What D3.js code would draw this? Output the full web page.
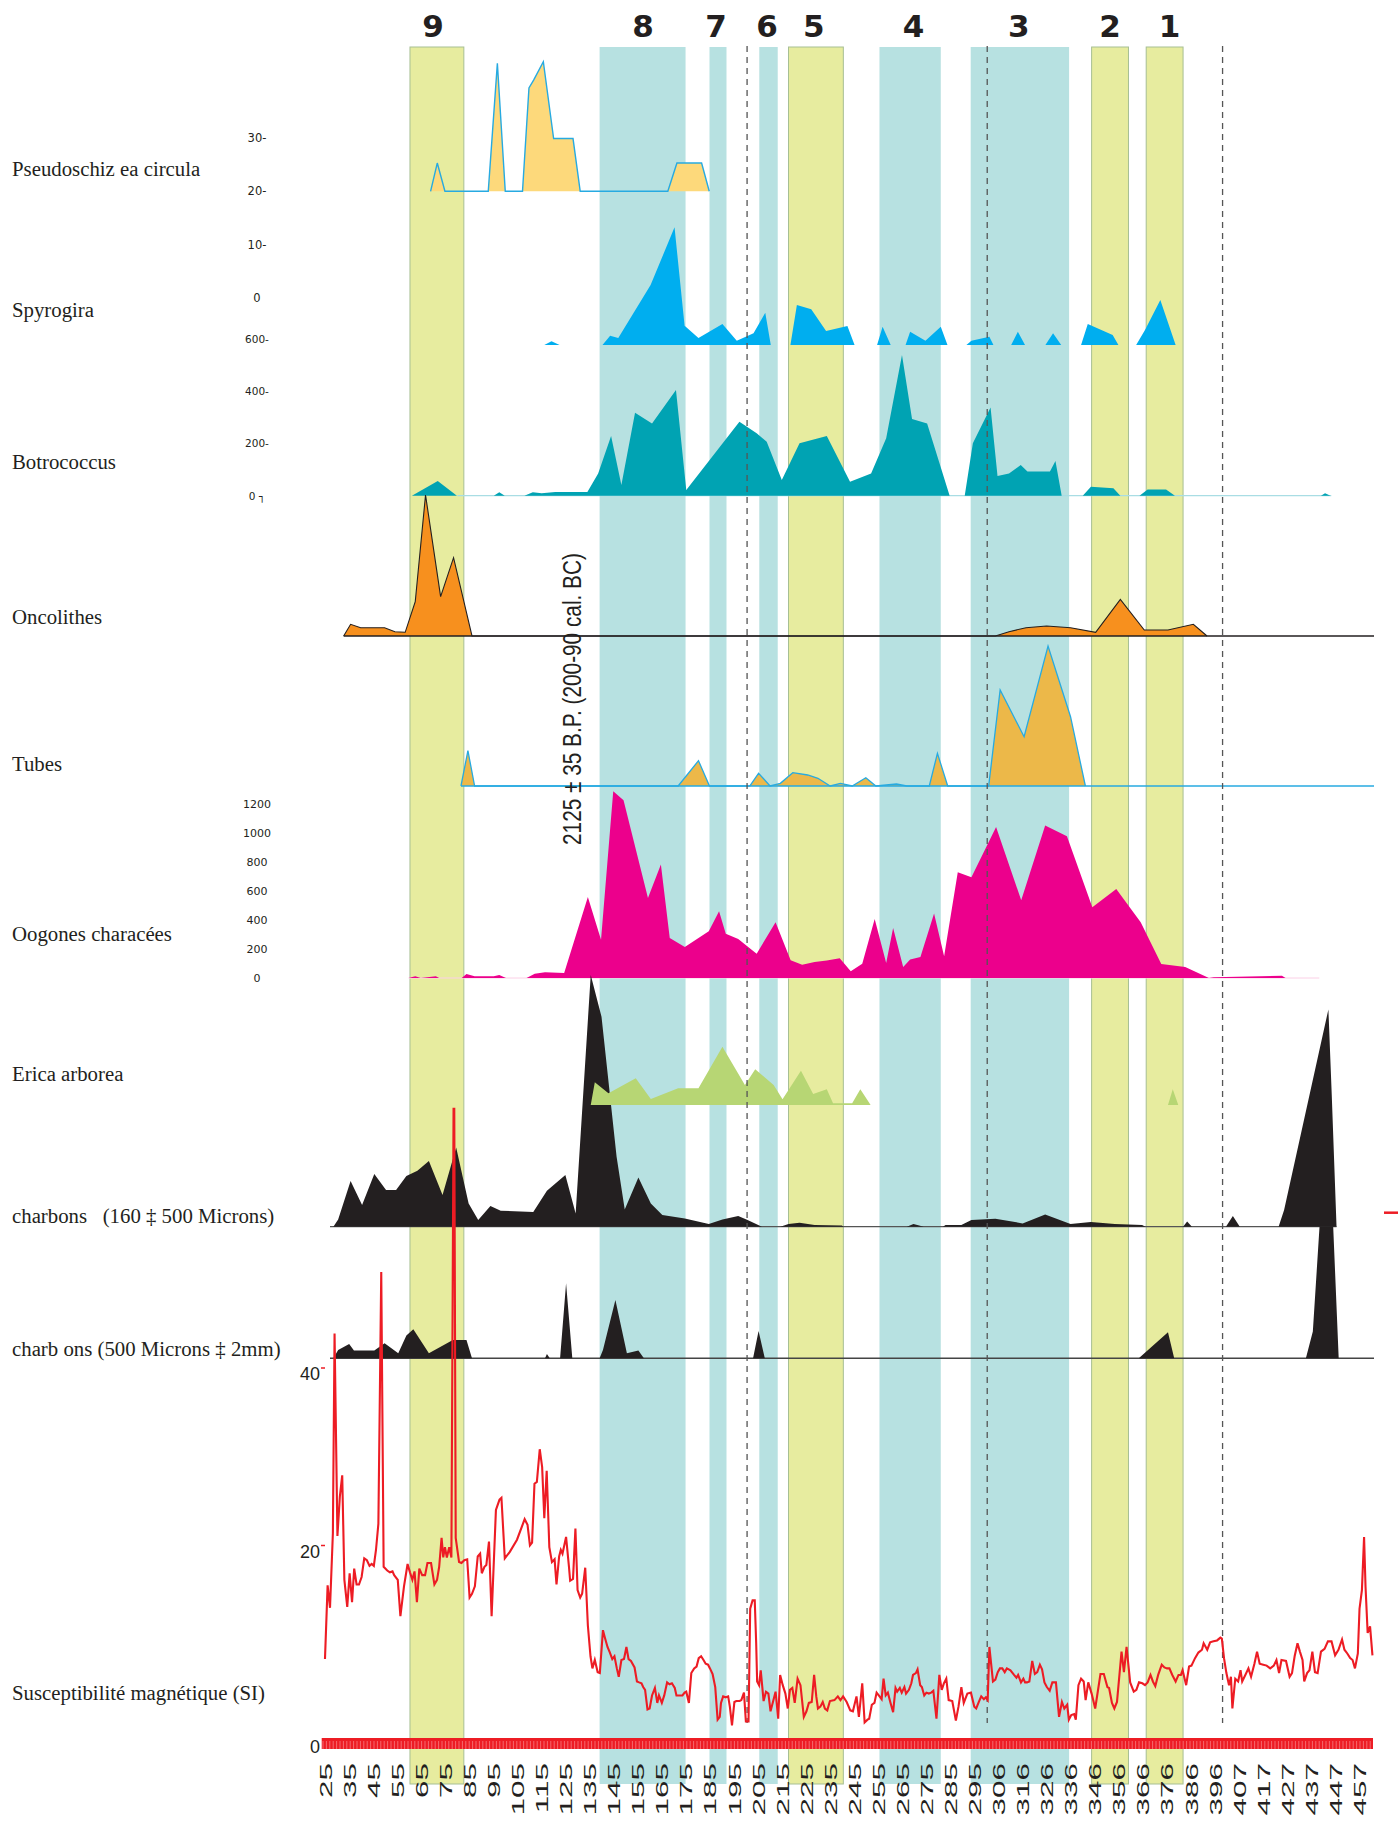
<!DOCTYPE html>
<html><head><meta charset="utf-8">
<script src="https://cdn.jsdelivr.net/npm/d3@7"></script>
<style>body{margin:0;background:#fff}svg{display:block}</style>
</head><body>
<svg id="chart" width="1399" height="1821"></svg>
<script>
// ---------- DATA ----------
const depthLabels = ["25","35","45","55","65","75","85","95","105","115","125","135","145","155","165","175","185","195","205","215","225","235","245","255","265","275","285","295","306","316","326","336","346","356","366","376","386","396","407","417","427","437","447","457"];

const zoneNames = ["9","8","7","6","5","4","3","2","1"];
const zoneStart = [60.2,139.4,185.3,206.1,218.3,256.3,294.4,344.9,367.7];
const zoneEnd   = [82.7,175.3,192.4,213.8,241.2,281.9,335.5,360.3,383.1];
const zoneKind  = ["y","b","b","b","y","b","b","y","y"];
const zoneLabelDepth = [69.8,157.5,188.0,209.3,228.9,270.5,314.5,352.6,377.4];
const dashedDepths = [201.0,301.3,399.6];

const panelNames = ["Pseudoschiz ea circula","Spyrogira","Botrococcus","Oncolithes","Tubes","Oogones characées","Erica arborea","charbons   (160 ‡ 500 Microns)","charb ons (500 Microns ‡ 2mm)","Susceptibilité magnétique (SI)"];

const pseudoTicks = [30,20,10,0];
const botryoTicks = [600,400,200,0];
const oogTicks = [1200,1000,800,600,400,200,0];
const suscTicks = [40,20,0];
const dateLabel = "2125 ± 35 B.P. (200-90 cal. BC)";

const pseudoData = [[68.8,20],[71.6,25.3],[74.8,20],[92.9,20],[96.7,44],[100.0,20],[107.2,20],[109.9,39.4],[111.9,40.9],[115.9,44.3],[120.2,29.9],[128.3,29.9],[131.3,20],[167.9,20],[171.7,25.3],[182.0,25.3],[185.2,20]];

const spyroData = [[116.3,0],[119.3,3.7],[122.7,0],[140.6,0],[143.8,9.3],[147.2,7],[160.7,60],[170.7,117.7],[174.9,19.3],[180.7,7],[190.7,21],[196.7,4.3],[203.7,11.7],[208.6,32.3],[210.9,0],[219.1,0],[221.8,40],[227.8,35.7],[234.0,14],[242.9,19],[245.9,0],[255.3,0],[257.6,18.3],[261.0,0],[267.2,0],[269.1,13.3],[275.5,4.3],[281.9,18.3],[284.7,0],[292.6,0],[294.7,4.3],[302.2,8.3],[303.9,0],[311.3,0],[314.1,13.3],[317.1,0],[325.6,0],[328.8,11.7],[332.2,0],[340.5,0],[343.3,21],[353.7,10],[356.1,0],[363.5,0],[367.2,15],[373.6,45],[380.0,0]];

const botryoData = [[61.0,0],[71.8,56],[79.8,0],[95.2,0],[97.5,12.7],[99.8,0],[108.0,0],[111.5,12.7],[115.2,8.9],[120.9,14],[134.3,14],[138.8,85],[144.2,228],[148.5,41],[154.2,317],[161.3,276],[171.3,403],[175.6,22],[197.8,282],[205.0,238],[209.2,206],[215.5,60],[222.9,200],[234.3,228],[244.0,53],[252.8,85],[259.1,219],[265.7,537],[269.9,293],[276.2,276],[285.6,0],[291.9,0],[295.3,200],[302.7,337],[305.6,75],[310.4,85],[315.3,117],[318.1,92],[327.5,92],[329.8,132],[332.4,0],[341.2,0],[344.6,34],[354.0,28],[356.9,0],[364.9,0],[368.3,24],[376.0,24],[379.7,0],[440.7,0],[442.4,9],[444.7,0]];

const oncolData = [[32.5,0],[35.4,11.7],[39.6,8.3],[49.6,8.3],[53.9,4.3],[58.2,3.7],[62.4,34.3],[66.7,141],[73.0,39.3],[78.4,78.3],[86.1,0],[304.7,0],[310.4,4.3],[317.5,8.3],[326.1,10],[336.1,8.3],[346.6,3.7],[356.9,36.7],[366.9,6],[376.8,6],[387.4,11.7],[393.1,0]];

const tubesData = [[81.5,0],[84.4,35.3],[87.2,0],[172.2,0],[180.7,25.3],[185.3,0],[202.1,0],[205.8,12.7],[210.6,0],[214.9,2.7],[220.1,13.3],[226.3,11],[230.6,7.7],[235.7,0],[240.0,2.7],[244.9,0],[250.6,8.3],[254.8,0],[263.4,2],[267.7,0],[277.1,0],[280.5,32.7],[284.8,0],[301.9,0],[306.7,96],[316.7,49.3],[326.7,140],[336.1,69.3],[342.3,0]];

const oogData = [[59.6,0],[62.4,11.5],[64.7,0],[71.0,11.5],[72.4,0],[81.8,0],[83.8,27.6],[87.2,11.5],[95.2,11.5],[97.5,20.7],[100.3,0],[108.9,0],[112.3,29.9],[116.6,39.1],[124.6,34.5],[134.5,559],[140.0,264],[145.1,1288],[149.4,1226],[159.6,552],[165.0,782],[168.7,276],[175.0,214],[185.0,322],[189.3,460],[192.1,305],[197.3,269],[205.0,168],[212.9,384],[219.2,122],[224.0,92],[229.2,110],[234.3,120],[239.7,136],[244.3,46],[249.1,99],[254.3,407],[259.1,104],[262.0,345],[266.2,76],[269.1,127],[273.4,145],[279.1,444],[283.3,150],[289.0,729],[294.7,695],[305.0,1042],[315.5,536],[325.5,1051],[334.6,978],[345.2,488],[355.2,614],[365.4,384],[374.0,97],[384.0,76],[393.9,0],[395.9,4.6],[424.4,16],[425.9,0]];

const ericaData = [[135.7,0],[137.4,22.7],[143.1,11.7],[154.5,26.7],[160.8,6],[172.2,16.7],[180.7,16.7],[190.7,58.3],[200.1,20],[204.4,35.7],[212.1,20],[215.8,5.7],[223.5,34.3],[228.6,11],[234.3,15.7],[236.9,1.7],[244.9,1.7],[248.3,15.7],[252.6,0],[376.8,0],[378.8,15.7],[381.1,0]];

const char1Data = [[28.2,0],[30.2,7.3],[35.4,45.7],[40.2,21.7],[45.3,52.7],[50.2,36.7],[54.4,36.7],[58.7,50.7],[63.3,56],[68.1,65.7],[73.8,31.7],[79.5,79.3],[84.7,23.3],[88.7,6.7],[93.8,20.7],[98.1,16],[111.7,14.7],[117.4,36],[125.1,51.7],[129.4,13.3],[135.7,251.7],[140.2,210],[146.5,70],[149.9,17.3],[155.6,49.3],[160.8,23.3],[165.6,11.7],[175.0,8.3],[185.0,2.7],[190.7,7.3],[197.3,10.7],[201.2,6.7],[207.2,0],[214.9,0],[218.3,2.7],[222.9,4],[229.2,1.7],[240.6,1.3],[241.2,0],[267.7,0],[270.5,2.7],[274.8,0],[282.8,0],[283.9,1.7],[290.5,1.7],[294.7,6.7],[304.7,8],[316.1,3.3],[325.5,12.3],[336.1,2.7],[344.6,4.7],[354.6,2.7],[366.0,1.7],[367.4,0],[383.1,0],[384.8,5.3],[386.8,0],[401.0,0],[403.9,10.7],[406.8,0],[423.0,0],[425.3,16.7],[443.8,217.3],[445.2,131.7],[447.2,0]];

const char2Data = [[28.2,0],[30.2,8.3],[34.8,14.3],[36.8,7.7],[45.3,7.7],[49.6,15],[55.3,5],[58.7,22.7],[61.6,29],[68.1,5],[78.1,18.3],[83.8,18.3],[86.1,0],[116.6,0],[117.4,4.3],[118.6,0],[122.9,0],[125.4,75],[128.0,0],[139.4,0],[140.8,8.3],[146.0,58.3],[150.8,5],[155.6,7.7],[157.9,0],[203.5,0],[205.8,27.3],[208.4,0],[364.6,0],[376.8,26],[379.4,0],[434.4,0],[437.3,26.7],[440.1,131.7],[445.8,131.7],[448.1,0]];

const suscData = [[24.7,9.0],[25.8,16.9],[26.8,14.5],[28.0,22.5],[28.7,43.9],[29.9,22.2],[30.9,26.4],[31.9,28.7],[32.8,17.5],[34.0,14.6],[35.0,18.2],[36.0,15.1],[36.9,18.7],[37.9,17.0],[38.9,17.0],[40.0,17.8],[41.1,19.8],[42.2,19.6],[43.3,19.0],[44.2,19.2],[45.1,19.0],[46.0,20.7],[47.0,23.5],[48.2,50.5],[49.2,18.9],[50.7,18.5],[51.8,18.3],[52.9,18.4],[53.6,18.0],[55.1,17.5],[56.2,13.6],[57.7,16.8],[59.2,19.2],[60.2,18.3],[61.2,17.5],[62.1,18.4],[63.1,15.1],[64.1,18.7],[65.3,18.0],[66.5,18.0],[67.5,19.3],[69.0,19.3],[70.4,17.0],[71.5,17.5],[72.4,18.9],[73.4,22.0],[74.1,19.9],[74.8,21.0],[75.6,19.9],[76.6,21.0],[77.5,19.9],[78.4,68],[78.7,68],[79.3,22],[80.7,19.4],[81.7,19.3],[82.9,19.6],[84.1,19.7],[85.1,15.6],[86.1,16.0],[87.3,16.8],[88.5,20.0],[89.5,20.3],[90.2,18.2],[91.3,18.9],[92.1,19.1],[93.2,21.6],[94.3,13.6],[96.1,25.0],[97.6,26.1],[98.4,26.3],[99.8,19.8],[101.9,20.5],[104.9,21.8],[108.1,24.0],[109.3,23.4],[110.3,21.2],[111.2,21.5],[112.2,27.8],[113.2,28.0],[114.4,31.5],[115.4,29.6],[116.3,24.1],[117.3,29.2],[118.4,21.0],[119.5,19.4],[120.6,19.7],[121.4,17.0],[122.5,20.0],[123.2,20.7],[123.9,20.3],[125.4,22.1],[126.6,18.9],[127.1,17.4],[128.3,17.6],[129.3,23.0],[130.2,16.4],[131.3,15.6],[132.1,16.0],[133.4,18.8],[134.5,12.6],[135.6,9.3],[136.4,8.0],[137.4,8.9],[138.6,7.6],[139.5,7.5],[140.8,12.1],[141.5,11.4],[142.7,10.3],[143.7,9.7],[144.7,9.0],[145.6,9.3],[146.6,8.0],[147.4,7.1],[148.5,8.9],[149.6,9.0],[150.6,10.3],[151.5,9.0],[152.5,8.8],[154.0,8.1],[155.0,6.6],[155.9,6.5],[156.9,6.4],[157.6,6.0],[158.4,5.7],[159.4,3.6],[160.3,3.7],[161.3,5.1],[162.5,5.9],[163.5,4.3],[164.2,5.1],[165.4,4.3],[166.4,5.1],[167.6,6.5],[168.6,6.3],[169.6,6.4],[170.8,5.9],[171.5,5.1],[173.0,5.1],[174.0,5.1],[174.9,5.4],[175.6,5.5],[176.7,4.3],[177.7,7.5],[178.9,8.0],[179.9,8.2],[180.8,9.1],[181.8,9.3],[182.8,8.9],[183.7,8.5],[184.7,8.4],[185.5,8.0],[186.6,7.4],[187.7,6.0],[188.7,2.5],[189.6,2.8],[190.1,4.3],[191.0,5.0],[192.1,4.9],[193.1,5.0],[193.8,3.9],[194.7,1.9],[195.7,4.4],[196.5,4.5],[197.9,4.5],[198.6,4.6],[199.7,5.4],[200.5,2.3],[201.6,2.3],[202.3,14.4],[203.3,15.3],[204.2,15.3],[204.8,10.7],[205.2,6.6],[206.0,6.2],[206.7,7.8],[207.9,4.5],[208.9,5.5],[209.9,5.3],[210.8,3.4],[211.8,4.4],[212.9,5.5],[214.0,2.6],[214.8,7.3],[215.9,6.2],[217.0,5.3],[218.0,3.7],[218.9,5.7],[219.9,5.9],[220.9,4.3],[222.1,6.9],[223.3,6.2],[224.7,2.8],[225.8,3.4],[226.8,4.3],[228.0,4.4],[229.0,7.3],[229.9,5.0],[230.6,3.7],[231.6,3.9],[232.6,4.4],[233.5,3.7],[234.5,3.5],[235.6,4.5],[237.5,4.6],[238.9,5.0],[240.0,4.6],[241.1,5.0],[242.6,4.4],[244.1,3.5],[245.2,3.4],[246.7,5.0],[247.7,2.8],[249.1,6.4],[250.1,2.2],[251.3,2.5],[252.0,2.6],[253.1,4.1],[254.2,4.3],[255.1,5.4],[256.0,5.1],[257.2,4.7],[258.0,6.9],[258.9,5.1],[259.8,5.4],[260.8,4.4],[262.0,3.3],[263.0,5.9],[263.7,5.5],[264.8,5.9],[265.6,5.4],[266.7,6.0],[267.4,5.3],[268.6,5.7],[269.6,6.4],[270.3,7.3],[271.5,7.5],[272.2,7.9],[273.3,6.2],[274.0,6.0],[275.0,5.1],[275.9,5.4],[276.9,5.3],[277.9,5.4],[278.8,5.6],[280.1,2.6],[281.3,7.3],[282.3,5.7],[283.2,6.4],[284.2,6.9],[285.2,4.6],[286.7,4.5],[288.2,2.4],[289.3,3.9],[290.5,6.0],[291.5,4.3],[293.0,5.3],[294.5,5.4],[295.9,3.9],[296.7,3.7],[297.8,4.4],[298.8,5.0],[299.9,4.7],[300.7,4.9],[301.5,4.6],[302.2,10.3],[303.7,6.6],[304.7,6.8],[305.7,7.6],[306.6,8.0],[307.6,8.0],[308.6,7.6],[309.5,8.0],[311.0,7.8],[312.5,7.3],[313.5,7.0],[314.2,7.3],[315.4,6.5],[316.4,6.9],[317.1,6.5],[317.9,6.5],[318.9,6.6],[320.1,8.8],[321.2,7.4],[322.2,7.6],[323.3,8.4],[324.2,7.9],[325.2,6.5],[326.2,6.0],[327.4,5.6],[328.5,6.5],[330.0,6.5],[331.3,2.8],[332.5,4.4],[333.5,3.7],[334.7,4.1],[335.4,2.5],[336.4,3.0],[337.6,3.1],[338.3,2.5],[339.4,6.2],[340.5,6.9],[341.6,6.6],[342.4,4.6],[343.5,6.5],[344.9,5.3],[346.4,3.7],[348.6,7.4],[350.0,7.4],[351.5,6.0],[352.2,5.9],[353.4,4.3],[354.4,3.7],[355.5,4.4],[357.4,9.8],[358.4,7.6],[359.5,10.3],[361.0,6.5],[362.5,5.5],[363.6,5.7],[364.7,6.5],[366.1,6.4],[367.2,6.2],[368.3,6.5],[369.5,7.3],[370.5,6.6],[371.5,6.1],[372.7,7.3],[374.2,8.4],[375.3,8.1],[376.4,8.0],[377.4,8.0],[378.6,7.3],[380.0,6.6],[381.2,7.3],[382.2,7.3],[382.9,7.8],[384.4,6.2],[385.6,8.2],[386.6,8.3],[388.1,9.1],[389.5,9.7],[391.0,10.0],[391.7,10.7],[393.2,10.0],[394.4,10.8],[395.8,10.9],[397.3,11.0],[398.7,11.3],[399.3,11.2],[400.2,9.1],[401.2,7.5],[402.3,6.2],[403.1,7.1],[403.7,3.7],[404.9,6.9],[406.1,6.6],[407.1,7.8],[407.8,6.6],[409.3,7.4],[410.4,8.0],[411.5,7.1],[412.9,8.5],[414.0,9.8],[415.1,8.5],[416.6,8.4],[418.0,8.3],[419.5,8.0],[421.0,8.3],[422.1,8.9],[423.2,7.5],[424.2,8.9],[426.1,8.8],[427.6,7.1],[428.6,7.5],[429.7,9.3],[430.9,10.7],[431.9,9.8],[433.0,8.9],[433.7,6.6],[434.9,7.5],[435.9,7.8],[437.1,9.8],[438.2,7.6],[439.3,7.5],[440.7,9.8],[442.2,10.1],[443.6,10.9],[445.1,10.9],[446.6,9.4],[448.0,10.0],[449.5,11.1],[450.5,10.0],[451.7,9.6],[452.9,9.1],[453.9,8.9],[454.9,8.0],[456.1,9.6],[456.8,14.4],[457.8,16.4],[458.7,22.1],[459.3,16.8],[460.2,11.8],[461.2,12.5],[462.2,9.4]];

// ---------- SCALES ----------
const svg = d3.select("#chart");
const x = d3.scaleLinear().domain([25,457]).range([325.7,1360]);
const xTick = d3.scalePoint().domain(depthLabels).range([325.7,1360]);

const yPseudo = d3.scaleLinear().domain([0,30]).range([297.9,138]);
const ySpyro  = d3.scaleLinear().domain([0,120]).range([345,225]);
const yBotryo = d3.scaleLinear().domain([0,600]).range([495.7,338.5]);
const yOncol  = d3.scaleLinear().domain([0,150]).range([636,486]);
const yTubes  = d3.scaleLinear().domain([0,150]).range([786,636]);
const yOog    = d3.scaleLinear().domain([0,1200]).range([978,804]);
const yErica  = d3.scaleLinear().domain([0,60]).range([1105,1045]);
const yChar1  = d3.scaleLinear().domain([0,260]).range([1226.7,966.7]);
const yChar2  = d3.scaleLinear().domain([0,140]).range([1358.3,1218.3]);
const ySusc   = d3.scaleLinear().domain([0,40]).range([1743,1370]);

const INK = "#231f20";
const BAND_TOP = 47, BAND_BOT = 1784;

// ---------- ZONES ----------
const gz = svg.append("g");
zoneNames.forEach((n,i)=>{
  const isY = zoneKind[i]==="y";
  gz.append("rect")
    .attr("x", x(zoneStart[i])).attr("y", BAND_TOP)
    .attr("width", x(zoneEnd[i])-x(zoneStart[i])).attr("height", BAND_BOT-BAND_TOP)
    .attr("fill", isY ? "#e7ec9f" : "#b7e1e1")
    .attr("stroke", isY ? "#a7bf94" : "none").attr("stroke-width", 1);
  svg.append("text")
    .attr("x", x(zoneLabelDepth[i])).attr("y", 37)
    .attr("text-anchor","middle")
    .attr("font-family","DejaVu Sans, sans-serif").attr("font-weight","bold")
    .attr("font-size", 31).attr("fill", INK).text(n);
});

// ---------- AREAS ----------
function areaFor(ys, base){
  return d3.area().x(d=>x(d[0])).y0(ys(base)).y1(d=>ys(d[1]));
}
function lineFor(ys){
  return d3.line().x(d=>x(d[0])).y(d=>ys(d[1]));
}
function hline(x1,x2,y,color,w){
  svg.append("line").attr("x1",x1).attr("x2",x2).attr("y1",y).attr("y2",y)
    .attr("stroke",color).attr("stroke-width",w);
}

// Pseudoschizaea
svg.append("path").datum(pseudoData).attr("d", areaFor(yPseudo,20)).attr("fill","#fdd97b");
svg.append("path").datum(pseudoData).attr("d", lineFor(yPseudo)).attr("fill","none").attr("stroke","#27aae1").attr("stroke-width",1.4);

// Spyrogira
svg.append("path").datum(spyroData).attr("d", areaFor(ySpyro,0)).attr("fill","#00aeef");

// Botrococcus
hline(x(80), x(445), yBotryo(0), "#a9dde4", 1.2);
svg.append("path").datum(botryoData).attr("d", areaFor(yBotryo,0)).attr("fill","#00a3b3");

// Oncolithes
svg.append("path").datum(oncolData).attr("d", areaFor(yOncol,0)).attr("fill","#f7901e");
hline(x(32.5), 1374, yOncol(0), INK, 1.4);
svg.append("path").datum(oncolData).attr("d", lineFor(yOncol)).attr("fill","none").attr("stroke",INK).attr("stroke-width",1.1);

// Tubes
svg.append("path").datum(tubesData).attr("d", areaFor(yTubes,0)).attr("fill","#ecb849");
hline(x(81.5), 1374, yTubes(0), "#27aae1", 1.4);
svg.append("path").datum(tubesData).attr("d", lineFor(yTubes)).attr("fill","none").attr("stroke","#27aae1").attr("stroke-width",1.3);

// Oogones
hline(x(59.6), x(440), yOog(0), "#fbd0e6", 1);
svg.append("path").datum(oogData).attr("d", areaFor(yOog,0)).attr("fill","#ec008c");

// Charbons
hline(330, x(447.2), yChar1(0), "#555", 1.3);
svg.append("path").datum(char1Data).attr("d", areaFor(yChar1,0)).attr("fill",INK);
hline(330, 1374, yChar2(0), "#444", 1.5);
svg.append("path").datum(char2Data).attr("d", areaFor(yChar2,0)).attr("fill",INK);

// Erica (drawn over the charcoal peak)
svg.append("path").datum(ericaData).attr("d", areaFor(yErica,0)).attr("fill","#b7d674");

// dashed lines
dashedDepths.forEach(d=>{
  svg.append("line").attr("x1",x(d)).attr("x2",x(d)).attr("y1",46).attr("y2",1723)
    .attr("stroke","#555").attr("stroke-width",1.3).attr("stroke-dasharray","6,5");
});

// Susceptibility line
svg.append("path").datum(suscData).attr("d", lineFor(ySusc)).attr("fill","none")
  .attr("stroke","#ed1c24").attr("stroke-width",2.1).attr("stroke-linejoin","miter");

// red dash at right
hline(1384, 1398, 1212.7, "#ed1c24", 2.5);

// ---------- BOTTOM AXIS BAR ----------
svg.append("rect").attr("x",321.7).attr("y",1738).attr("width",1373-321.7).attr("height",11).attr("fill","#ed1c24");
svg.append("g").selectAll("line").data(d3.range(323, 1372, 3.4)).join("line")
  .attr("x1",d=>d).attr("x2",d=>d).attr("y1",1741).attr("y2",1749)
  .attr("stroke","#f8a0a3").attr("stroke-width",0.6);

// x tick labels
svg.append("g").selectAll("text").data(depthLabels).join("text")
  .attr("transform", d=>`translate(${xTick(d)+5.9},1763) rotate(-90) scale(1.93,1)`)
  .attr("text-anchor","end")
  .attr("font-family","Liberation Sans, Arial, sans-serif").attr("font-size",16.3)
  .attr("fill",INK).text(d=>d);

// date label
svg.append("text")
  .attr("transform","translate(581,845) rotate(-90) scale(1,1.27)")
  .attr("text-anchor","start")
  .attr("font-family","Liberation Sans, Arial, sans-serif").attr("font-size",20.8)
  .attr("fill",INK).text(dateLabel);

// ---------- LEFT LABELS ----------
const labelY = [176,317,469,624,771,941,1081,1223,1356,1700];
svg.append("g").selectAll("text").data(panelNames).join("text")
  .attr("x",12).attr("y",(d,i)=>labelY[i])
  .attr("font-family","Liberation Serif, Times New Roman, serif").attr("font-size",20.8)
  .attr("fill",INK).style("white-space","pre").text(d=>d);

function tickLabels(vals, ys, fmt, size){
  svg.append("g").selectAll("text").data(vals).join("text")
    .attr("x",257).attr("y",d=>ys(d)+4)
    .attr("text-anchor","middle")
    .attr("font-family","DejaVu Sans, Verdana, sans-serif").attr("font-size",size)
    .attr("fill",INK).text(fmt);
}
tickLabels(pseudoTicks, yPseudo, d=> d===0 ? "0" : d+"-", 11.5);
tickLabels(botryoTicks, yBotryo, d=> d===0 ? "0 ┐" : d+"-", 10.5);
tickLabels(oogTicks, yOog, d=>String(d), 11);

// susceptibility y labels
const suscLabelOffset = [10, 1, 10];
svg.append("g").selectAll("text").data(suscTicks).join("text")
  .attr("x",320).attr("y",(d,i)=> ySusc(d)+suscLabelOffset[i])
  .attr("text-anchor","end")
  .attr("font-family","Liberation Sans, Arial, sans-serif").attr("font-size",18)
  .attr("fill",INK).text(d=>d);
svg.append("g").selectAll("line").data(suscTicks.filter(d=>d>0)).join("line")
  .attr("x1",321).attr("x2",325).attr("y1",(d,i)=>ySusc(d)+suscLabelOffset[i]-12).attr("y2",(d,i)=>ySusc(d)+suscLabelOffset[i]-12)
  .attr("stroke","#ed1c24").attr("stroke-width",1.5);
</script>
</body></html>
